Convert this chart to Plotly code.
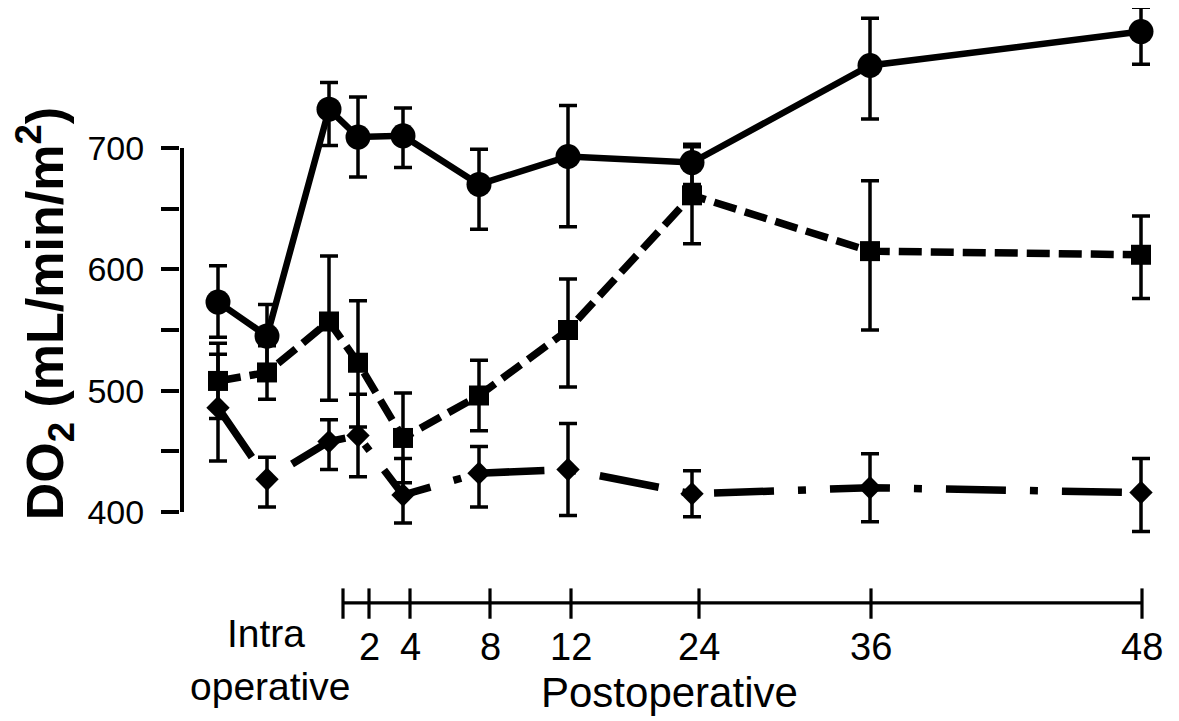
import plotly.graph_objects as go

# ---------------- data ----------------
# sampling times (3 intra-operative + 7 postoperative) and their place on the drawn time scale
time_labels = ["Intra 1", "Intra 2", "Intra 3", "2 h", "4 h", "8 h", "12 h", "24 h", "36 h", "48 h"]
time_pos = [3.8, 8.7, 14.9, 17.8, 22.3, 29.9, 38.8, 51.2, 69.0, 96.1]

# postoperative axis (hours) and its tick places on the same time scale
post_tick_hours = [0, 2, 4, 8, 12, 24, 36, 48]
post_tick_pos = [16.3, 18.9, 23.0, 31.0, 39.1, 51.9, 69.1, 96.2]

# series 1 (circles, solid line)
circ_mean = [573, 545, 732, 709, 710, 670, 693, 688, 768, 796]
circ_err_up = [30, 26, 22, 33, 23, 29, 42, 15, 39, 20]
circ_err_dn = [29, 26, 30, 33, 26, 37, 58, 18, 44, 27]

# series 2 (squares, dashed line)
sq_mean = [508, 515, 557, 523, 461, 496, 550, 661, 615, 612]
sq_err_up = [31, 22, 54, 51, 37, 29, 42, 40, 58, 32]
sq_err_dn = [31, 22, 65, 53, 37, 29, 47, 40, 65, 36]

# series 3 (diamonds, dash-dot line)
dia_mean = [486, 427, 458, 463, 414, 432, 435, 415, 420, 416]
dia_err_up = [44, 18, 18, 34, 30, 22, 38, 19, 28, 28]
dia_err_dn = [44, 23, 23, 34, 23, 28, 38, 19, 28, 32]

y_major_ticks = [400, 500, 600, 700]
y_major_text = ["400", "500", "600", "700"]
y_minor_ticks = [450, 550, 650]

# ---------------- figure ----------------
FONT = "Liberation Sans, Arial, Helvetica, sans-serif"
BLACK = "#000000"

fig = go.Figure()

def add_series(y, up, dn, symbol, msize, dash, lw, name):
    fig.add_trace(go.Scatter(
        x=time_pos, y=y, mode="lines+markers", name=name,
        text=time_labels,
        line=dict(color=BLACK, width=lw, dash=dash),
        marker=dict(symbol=symbol, size=msize, color=BLACK, line=dict(width=0)),
        error_y=dict(type="data", symmetric=False, array=up, arrayminus=dn,
                     color=BLACK, thickness=3.5, width=9),
        showlegend=False, cliponaxis=False,
    ))

add_series(dia_mean, dia_err_up, dia_err_dn, "diamond", 18, "60px,24px,8px,24px", 7.5, "diamonds")
add_series(sq_mean, sq_err_up, sq_err_dn, "square", 20, "23px,9px", 7.5, "squares")
add_series(circ_mean, circ_err_up, circ_err_dn, "circle", 25, "solid", 6.5, "circles")

# y-axis line (400 to 700)
fig.add_shape(type="line", xref="x", yref="y", x0=0.2, x1=0.2,
              y0=y_major_ticks[0], y1=y_major_ticks[-1],
              line=dict(color=BLACK, width=4))

# custom postoperative time axis
AX_Y = 325
fig.add_shape(type="line", xref="x", yref="y", x0=post_tick_pos[0], x1=post_tick_pos[-1],
              y0=AX_Y, y1=AX_Y, line=dict(color=BLACK, width=3.2))
for p in post_tick_pos:
    fig.add_shape(type="line", xref="x", yref="y", x0=p, x1=p, y0=AX_Y - 13, y1=AX_Y + 12,
                  line=dict(color=BLACK, width=3.2))

for h, p in zip(post_tick_hours, post_tick_pos):
    if h == 0:
        continue
    fig.add_annotation(x=p, y=289, xref="x", yref="y", text=str(h), showarrow=False,
                       font=dict(family=FONT, size=38, color=BLACK),
                       xanchor="center", yanchor="middle")

fig.add_annotation(x=8.6, y=300, xref="x", yref="y", text="Intra", showarrow=False,
                   font=dict(family=FONT, size=39, color=BLACK), xanchor="center", yanchor="middle")
fig.add_annotation(x=9.0, y=256, xref="x", yref="y", text="operative", showarrow=False,
                   font=dict(family=FONT, size=39, color=BLACK), xanchor="center", yanchor="middle")
fig.add_annotation(x=48.9, y=251, xref="x", yref="y", text="Postoperative", showarrow=False,
                   font=dict(family=FONT, size=42, color=BLACK), xanchor="center", yanchor="middle")

# y-axis title
fig.add_annotation(x=0, y=563, xref="paper", yref="y", xshift=-135,
                   text="<b>DO<sub>2</sub> (mL/min/m<sup>2</sup>)</b>", showarrow=False,
                   textangle=-90,
                   font=dict(family="Liberation Sans Narrow, Arial Narrow, Liberation Sans, Arial, sans-serif",
                             size=52, color=BLACK),
                   xanchor="center", yanchor="middle")

# the page adds an 8px body margin, so the figure is 8px smaller than the window
fig.update_layout(
    width=1171, height=713,
    margin=dict(l=172, r=7, t=0, b=0),
    paper_bgcolor="white", plot_bgcolor="white",
    xaxis=dict(range=[0, 99.2], visible=False, showgrid=False, zeroline=False),
    yaxis=dict(range=[227.7, 815.4], showgrid=False, zeroline=False, showline=False,
               tickmode="array", tickvals=y_major_ticks, ticktext=y_major_text,
               ticks="outside", ticklen=18, tickwidth=4, tickcolor=BLACK,
               ticklabelstandoff=10,
               tickfont=dict(family=FONT, size=34, color=BLACK),
               minor=dict(tickmode="array", tickvals=y_minor_ticks, ticks="outside",
                          ticklen=18, tickwidth=4, tickcolor=BLACK, showgrid=False)),
)

fig.write_html("out.html")
